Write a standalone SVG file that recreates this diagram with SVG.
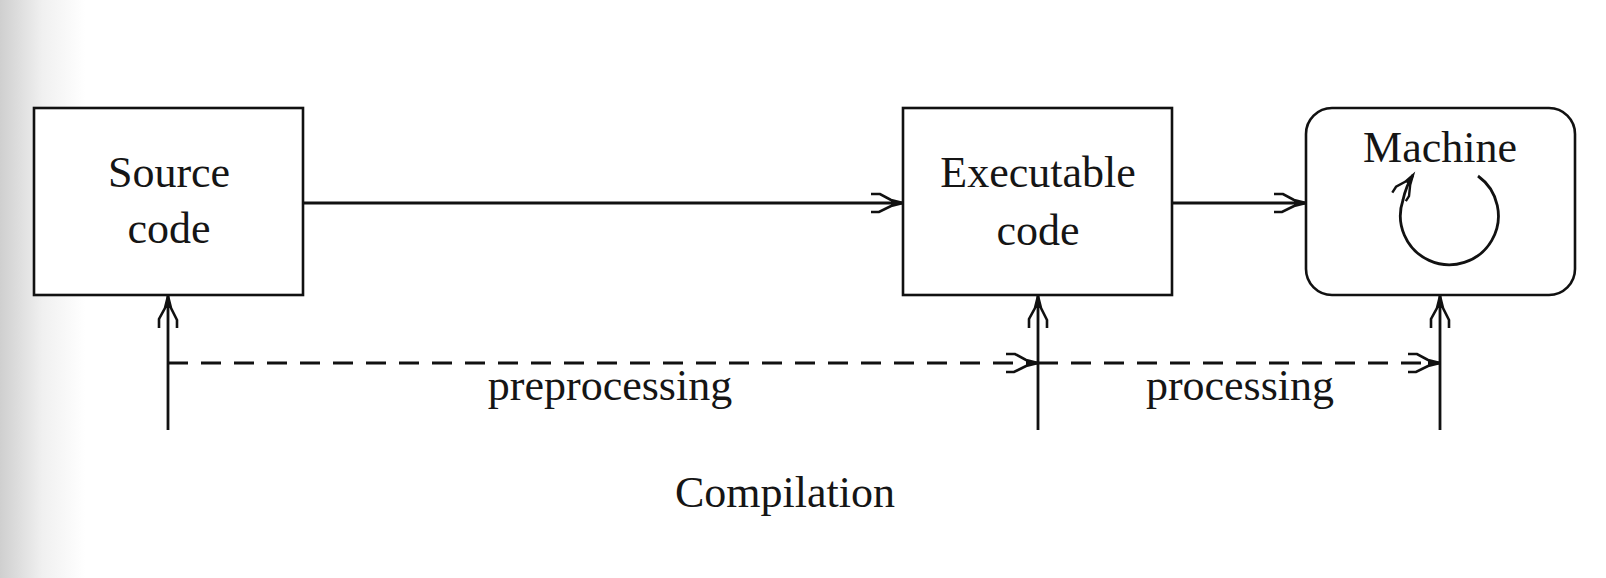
<svg xmlns="http://www.w3.org/2000/svg" width="1606" height="578" viewBox="0 0 1606 578">
<style>
.box{fill:#fff;stroke:#111;stroke-width:2.6}
.lbl{font-family:"Liberation Serif","Times New Roman",serif;font-size:44px;fill:#151515;text-anchor:middle}
.ln{fill:none;stroke:#111;stroke-width:2.8}
.dash{stroke-dasharray:20 13}
</style>
<defs>
<linearGradient id="edge" x1="0" y1="0" x2="1" y2="0">
<stop offset="0" stop-color="#cfcfcf"/>
<stop offset="0.5" stop-color="#f0f0f0"/>
<stop offset="1" stop-color="#ffffff"/>
</linearGradient>
<marker id="arr" markerUnits="userSpaceOnUse" markerWidth="44" markerHeight="28" viewBox="-38 -14 44 28" refX="0" refY="0" orient="auto">
<path d="M-32,-9 L-23,-9 L-12,-3 L0,0 L-12,3 L-24,9 L-32,9" fill="none" stroke="#111" stroke-width="2.6" stroke-linejoin="miter"/>
<path d="M-12,-2.5 L0,0 L-12,2.5 Z" fill="#111"/>
</marker>
<marker id="arrs" markerUnits="userSpaceOnUse" markerWidth="36" markerHeight="24" viewBox="-30 -12 36 24" refX="0" refY="0" orient="auto">
<path d="M-26,-8 L-19,-8 L-10,-3 L0,0 L-10,3 L-20,8 L-26,8" fill="none" stroke="#111" stroke-width="2.4"/>
<path d="M-10,-2.5 L0,0 L-10,2.5 Z" fill="#111"/>
</marker>
</defs>
<rect x="0" y="0" width="1606" height="578" fill="#fff"/>
<rect x="0" y="0" width="85" height="578" fill="url(#edge)"/>
<g id="connectors">
<line class="ln" x1="303" y1="203" x2="903" y2="203" marker-end="url(#arr)"/>
<line class="ln" x1="1172" y1="203" x2="1306" y2="203" marker-end="url(#arr)"/>
<line class="ln" x1="168" y1="430" x2="168" y2="296" marker-end="url(#arr)"/>
<line class="ln" x1="1038" y1="430" x2="1038" y2="296" marker-end="url(#arr)"/>
<line class="ln" x1="1440" y1="430" x2="1440" y2="296" marker-end="url(#arr)"/>
<line class="ln dash" x1="168" y1="363" x2="1038" y2="363" marker-end="url(#arr)"/>
<line class="ln dash" x1="1038" y1="363" x2="1440" y2="363" marker-end="url(#arr)"/>
</g>
<g id="source">
<rect class="box" x="34" y="108" width="269" height="187"/>
<text class="lbl" x="169" y="187">Source</text>
<text class="lbl" x="169" y="243">code</text>
</g>
<g id="executable">
<rect class="box" x="903" y="108" width="269" height="187"/>
<text class="lbl" x="1038" y="187">Executable</text>
<text class="lbl" x="1038" y="245">code</text>
</g>
<g id="machine">
<rect class="box" x="1306" y="108" width="269" height="187" rx="26" ry="26"/>
<text class="lbl" x="1440" y="162">Machine</text>
<path class="ln" d="M1478,176 A49,49 0 1 1 1403,200 Q1406,186 1413,175" stroke-width="2.6" marker-end="url(#arrs)"/>
</g>
<g id="labels">
<text class="lbl" x="610" y="400">preprocessing</text>
<text class="lbl" x="1240" y="400">processing</text>
<text class="lbl" x="785" y="507">Compilation</text>
</g>
</svg>
